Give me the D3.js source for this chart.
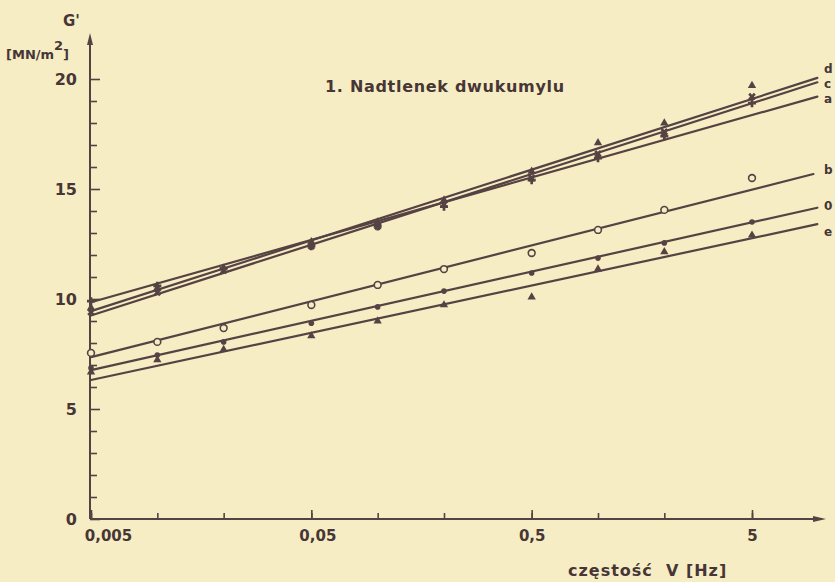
<!DOCTYPE html>
<html>
<head>
<meta charset="utf-8">
<script src="https://cdn.jsdelivr.net/npm/d3@7/dist/d3.min.js"></script>
<style>
  html, body { margin: 0; padding: 0; background: #f7edc4; }
  svg { display: block; }
  text { font-family: "DejaVu Sans", sans-serif; fill: #463636; }
</style>
</head>
<body>
<svg id="chart" width="835" height="582"></svg>
<script>
// ---------------- data ----------------
const freqs = [0.005, 0.01, 0.02, 0.05, 0.1, 0.2, 0.5, 1, 2, 5];

const seriesD = [9.6, 10.5, 11.4, 12.6, 13.5, 14.5, 15.8, 17.1, 18.0, 19.7];
const seriesC = [9.4, 10.3, 11.3, 12.4, 13.3, 14.3, 15.5, 16.6, 17.6, 19.2];
const seriesA = [9.9, 10.6, 11.4, 12.4, 13.3, 14.2, 15.4, 16.4, 17.4, 18.9];
const seriesB = [7.55, 8.05, 8.68, 9.73, 10.64, 11.36, 12.09, 13.14, 14.05, 15.5];
const series0 = [6.86, 7.45, 8.05, 8.9, 9.64, 10.36, 11.18, 11.86, 12.55, 13.5];
const seriesE = [6.68, 7.23, 7.7, 8.32, 9.0, 9.73, 10.09, 11.36, 12.14, 12.9];

// fitted straight lines (G' at start and at end frequency)
const lineNames   = ["d", "c", "a", "b", "0", "e"];
const lineStartF  = [0.005, 0.005, 0.005, 0.005, 0.005, 0.005];
const lineStartG  = [9.45, 9.25, 9.85, 7.36, 6.77, 6.32];
const lineEndF    = [9.9, 9.9, 9.9, 9.5, 9.9, 9.9];
const lineEndG    = [20.05, 19.85, 19.2, 15.68, 14.15, 13.4];

const xTickValues  = [0.005, 0.01, 0.02, 0.05, 0.1, 0.2, 0.5, 1, 2, 5];
const xLabelValues = [0.005, 0.05, 0.5, 5];
const xLabelTexts  = ["0,005", "0,05", "0,5", "5"];
const yMajorTicks  = [0, 5, 10, 15, 20];
const yMinorTicks  = [1, 2, 3, 4, 6, 7, 8, 9, 11, 12, 13, 14, 16, 17, 18, 19];

const titleText = "1. Nadtlenek dwukumylu";
const xAxisLabel = "częstość  V [Hz]";

// ---------------- layout / style ----------------
const ink = "#554242";
const paper = "#f7edc4";
const svg = d3.select("#chart");
const x = d3.scaleLog().domain([0.005, 5]).range([91, 752]);
const y = d3.scaleLinear().domain([0, 20]).range([519, 79]);
const axisX0 = 90, axisY0 = 519, arrowTop = 33, arrowRight = 826;

// ---------------- axes ----------------
const gx = svg.append("g").attr("transform", `translate(0,${axisY0})`);
gx.call(d3.axisBottom(x).tickValues(xTickValues).tickSizeInner(-6).tickSizeOuter(0)
  .tickFormat(() => ""));
gx.select(".domain").remove();
gx.selectAll(".tick line").attr("stroke", ink).attr("stroke-width", 1.6);

const gxl = svg.append("g").attr("transform", `translate(0,${axisY0})`);
gxl.call(d3.axisBottom(x).tickValues(xLabelValues).tickSizeInner(-9).tickSizeOuter(0).tickPadding(11)
  .tickFormat((d, i) => xLabelTexts[i]));
gxl.select(".domain").remove();
gxl.selectAll(".tick line").attr("stroke", ink).attr("stroke-width", 1.6);
gxl.selectAll(".tick text")
  .attr("font-size", 15).attr("font-weight", "bold").attr("fill", "#463636")
  .attr("font-family", "DejaVu Sans")
  .attr("dx", (d, i) => i === 0 ? 17 : (i === 1 ? 6 : 0));

const gy = svg.append("g").attr("transform", `translate(${axisX0},0)`);
gy.call(d3.axisLeft(y).tickValues(yMinorTicks).tickSizeInner(-7).tickSizeOuter(0).tickFormat(() => ""));
gy.select(".domain").remove();
gy.selectAll(".tick line").attr("stroke", ink).attr("stroke-width", 1.6);

const gyl = svg.append("g").attr("transform", `translate(${axisX0},0)`);
gyl.call(d3.axisLeft(y).tickValues(yMajorTicks).tickSizeInner(-10).tickSizeOuter(0).tickPadding(13));
gyl.select(".domain").remove();
gyl.selectAll(".tick line").attr("stroke", ink).attr("stroke-width", 1.6);
gyl.selectAll(".tick text")
  .attr("font-size", 16).attr("font-weight", "bold").attr("fill", "#463636")
  .attr("font-family", "DejaVu Sans");

// axis lines with arrows
svg.append("line").attr("x1", axisX0).attr("x2", axisX0).attr("y1", axisY0).attr("y2", arrowTop + 6)
  .attr("stroke", ink).attr("stroke-width", 2);
svg.append("path").attr("d", `M${axisX0},${arrowTop} L${axisX0 - 3},${arrowTop + 12} L${axisX0 + 3},${arrowTop + 12} Z`)
  .attr("fill", ink);
svg.append("line").attr("x1", axisX0).attr("x2", arrowRight - 6).attr("y1", axisY0).attr("y2", axisY0)
  .attr("stroke", ink).attr("stroke-width", 2);
svg.append("path").attr("d", `M${arrowRight},${axisY0} L${arrowRight - 13},${axisY0 - 3} L${arrowRight - 13},${axisY0 + 3} Z`)
  .attr("fill", ink);

// ---------------- fitted lines ----------------
const labelDy = [-9, 1, 2, -4, -2, 8];
lineNames.forEach((n, i) => {
  svg.append("line")
    .attr("x1", x(lineStartF[i])).attr("y1", y(lineStartG[i]))
    .attr("x2", x(lineEndF[i])).attr("y2", y(lineEndG[i]))
    .attr("stroke", ink).attr("stroke-width", 2.2).attr("stroke-linecap", "round");
  svg.append("text")
    .attr("x", 824).attr("y", y(lineEndG[i]) + labelDy[i])
    .attr("dy", "0.35em")
    .attr("font-size", 12).attr("font-weight", "bold")
    .text(n);
});

// ---------------- points ----------------
function drawPoints(values, type) {
  const g = svg.append("g");
  values.forEach((v, i) => {
    const px = x(freqs[i]), py = y(v);
    if (type === "circle") {
      g.append("circle").attr("cx", px).attr("cy", py).attr("r", 3.4)
        .attr("fill", paper).attr("stroke", ink).attr("stroke-width", 1.6);
    } else if (type === "dot") {
      g.append("circle").attr("cx", px).attr("cy", py).attr("r", 2.8)
        .attr("fill", ink);
    } else if (type === "triangle") {
      g.append("path").attr("transform", `translate(${px},${py})`)
        .attr("d", d3.symbol(d3.symbolTriangle, 30)()).attr("fill", ink);
    } else if (type === "cross") {
      g.append("path").attr("transform", `translate(${px},${py}) rotate(45)`)
        .attr("d", d3.symbol(d3.symbolCross, 36)()).attr("fill", ink);
    } else if (type === "plus") {
      g.append("path").attr("transform", `translate(${px},${py})`)
        .attr("d", d3.symbol(d3.symbolCross, 36)()).attr("fill", ink);
    }
  });
}
drawPoints(seriesA, "plus");
drawPoints(seriesC, "cross");
drawPoints(seriesD, "triangle");
drawPoints(seriesB, "circle");
drawPoints(series0, "dot");
drawPoints(seriesE, "triangle");

// ---------------- texts ----------------
svg.append("text").attr("x", 325).attr("y", 92)
  .attr("font-size", 16).attr("font-weight", "bold").attr("letter-spacing", 0.7)
  .text(titleText);

svg.append("text").attr("x", 63).attr("y", 26)
  .attr("font-size", 15).attr("font-weight", "bold").text("G'");
const unit = svg.append("text").attr("x", 6).attr("y", 59)
  .attr("font-size", 13).attr("font-weight", "bold");
unit.append("tspan").text("[MN/m");
unit.append("tspan").attr("dy", -9).attr("font-size", 13).text("2");
unit.append("tspan").attr("dy", 9).text("]");

svg.append("text").attr("x", 568).attr("y", 576)
  .attr("font-size", 16).attr("font-weight", "bold").attr("letter-spacing", 1)
  .style("white-space", "pre")
  .text(xAxisLabel);
</script>
</body>
</html>
